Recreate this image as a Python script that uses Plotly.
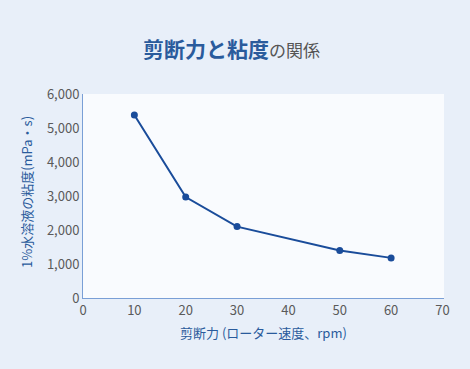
import plotly.graph_objects as go

shear_rpm = [10, 20, 30, 50, 60]
viscosity = [5380, 2970, 2100, 1400, 1180]
y_ticks = [0, 1000, 2000, 3000, 4000, 5000, 6000]
x_ticks = [0, 10, 20, 30, 40, 50, 60, 70]

FONT = "Noto Sans CJK JP"
BLUE = "#1a4c9a"
TITLE_BLUE = "#2a5b9c"

fig = go.Figure()
fig.add_trace(go.Scatter(
    x=shear_rpm, y=viscosity, mode="lines+markers",
    line=dict(color=BLUE, width=2),
    marker=dict(color=BLUE, size=7),
    hoverinfo="skip", showlegend=False,
))

fig.update_layout(
    width=470, height=369,
    margin=dict(l=83, r=26, t=94, b=71),
    paper_bgcolor="#e8eff9",
    plot_bgcolor="#f9fbfe",
    font=dict(family=FONT, color="#555555", size=13),
    xaxis=dict(range=[0, 70.3], tickvals=x_ticks, ticktext=[str(v) for v in x_ticks],
               showgrid=False, zeroline=False, showline=True, linecolor="#7a9fd6",
               linewidth=1, ticks="", tickfont=dict(size=13, color="#5a5a5a")),
    yaxis=dict(range=[0, 6000], tickvals=y_ticks, ticktext=[f"{v:,}" for v in y_ticks],
               showgrid=False, zeroline=False, showline=True, linecolor="#7a9fd6",
               linewidth=1, ticks="", tickfont=dict(size=13, color="#5a5a5a")),
    annotations=[
        dict(text="<b>剪断力と粘度</b><span style='font-size:17px;color:#555555'>の関係</span>",
             xref="paper", yref="paper", x=(231 - 83) / 361, y=1 + (94 - 48) / 204,
             xanchor="center", yanchor="middle", showarrow=False,
             font=dict(family=FONT, size=21, color=TITLE_BLUE)),
        dict(text="剪断力 (ローター速度、rpm)",
             xref="paper", yref="paper", x=0.5, y=-(332 - 298) / 204,
             xanchor="center", yanchor="middle", showarrow=False,
             font=dict(family=FONT, size=13, color=TITLE_BLUE)),
        dict(text="1%水溶液の粘度(mPa・s)",
             xref="paper", yref="paper", x=-(83 - 26) / 361, y=(298 - 192) / 204,
             xanchor="center", yanchor="middle", showarrow=False, textangle=-90,
             font=dict(family=FONT, size=13, color=TITLE_BLUE)),
    ],
)

fig.write_html("out.html", config={"displayModeBar": False},
               post_script="document.body.style.margin='0';document.body.style.padding='0';")
